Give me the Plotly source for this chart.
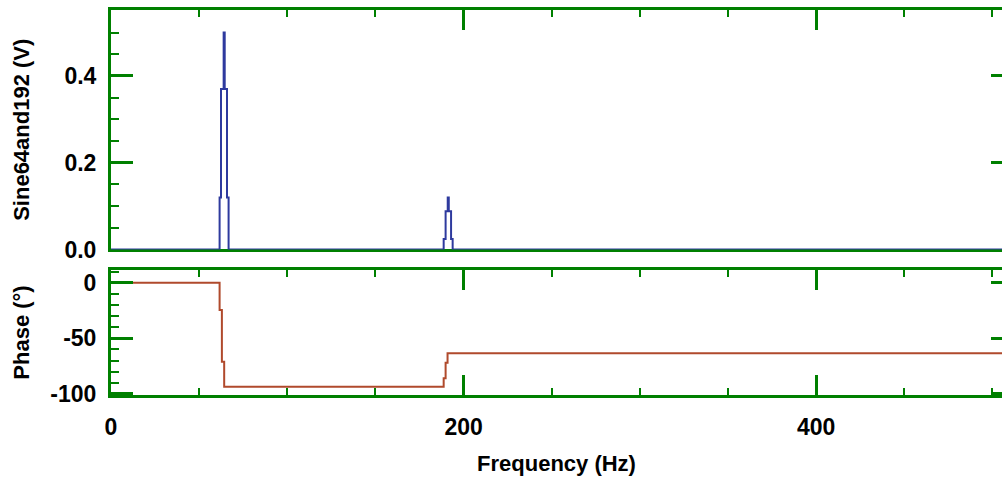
import plotly.graph_objects as go

# Magnitude spectrum (step plot, V)
freq_mag = [0, 61.6, 62.4, 63.9, 64.5, 65.8, 66.7, 188.7, 189.8, 191.0, 191.6, 192.9, 193.8, 512]
mag = [0.0, 0.12, 0.37, 0.5, 0.37, 0.12, 0.0, 0.024, 0.088, 0.12, 0.088, 0.024, 0.0, 0.0]

# Phase spectrum (step plot, degrees)
freq_phase = [0, 61.6, 62.9, 64.2, 188.7, 189.8, 190.9, 512]
phase = [0.0, -24.5, -71.0, -93.5, -86.0, -72.0, -63.5, -63.5]

mag_ticks = [0.0, 0.2, 0.4]
phase_ticks = [-100, -50, 0]
phase_ticktext = ["-100", "-50", "0"]
x_ticks = [0, 200, 400]

GREEN = "#008000"
BLUE = "#2E3A9E"
BROWN = "#B04A2C"
TICKFONT = dict(family="Liberation Sans", size=23, color="black", weight="bold")
TITLEFONT = dict(family="Liberation Sans", size=22, color="black", weight="bold")

fig = go.Figure()
fig.add_trace(go.Scatter(x=freq_mag, y=mag, mode="lines", line=dict(shape="hv", color=BLUE, width=2),
                         xaxis="x", yaxis="y", showlegend=False, hoverinfo="skip"))
fig.add_trace(go.Scatter(x=freq_phase, y=phase, mode="lines", line=dict(shape="hv", color=BROWN, width=2),
                         xaxis="x2", yaxis="y2", showlegend=False, hoverinfo="skip"))
# invisible helpers so the right-hand tick axes are drawn
fig.add_trace(go.Scatter(x=freq_mag[:1], y=mag[:1], mode="markers", marker=dict(opacity=0),
                         xaxis="x", yaxis="y3", showlegend=False, hoverinfo="skip"))
fig.add_trace(go.Scatter(x=freq_phase[:1], y=phase[:1], mode="markers", marker=dict(opacity=0),
                         xaxis="x2", yaxis="y4", showlegend=False, hoverinfo="skip"))

xr = [0, 505.4]
yr1 = [0, 0.552]
yr2 = [-101, 11.4]

common_x = dict(range=xr, showline=True, linecolor=GREEN, linewidth=3, ticks="inside", ticklen=20,
                tickwidth=3, tickcolor=GREEN, tickmode="array", tickvals=x_ticks,
                minor=dict(ticks="inside", ticklen=7, tickwidth=2, tickcolor=GREEN, tickmode="linear", tick0=0, dtick=50),
                showgrid=False, zeroline=False)

fig.update_layout(
    width=1002, height=480,
    margin=dict(l=111, r=0, t=10, b=85),
    paper_bgcolor="white", plot_bgcolor="white",
    xaxis=dict(**common_x, domain=[0, 1], anchor="y", side="top", mirror=True,
               showticklabels=False, layer="below traces"),
    xaxis2=dict(**common_x, domain=[0, 1], anchor="y2", side="bottom", mirror="ticks",
                showticklabels=True, tickfont=TICKFONT, ticklabelstandoff=9,
                title=dict(text="Frequency (Hz)", font=TITLEFONT, standoff=18)),
    yaxis=dict(domain=[0.378, 1], anchor="x", range=yr1, showline=True, linecolor=GREEN, linewidth=3,
               ticks="inside", ticklen=22, tickwidth=3, tickcolor=GREEN,
               tickmode="array", tickvals=mag_ticks, ticktext=[f"{v:.1f}" for v in mag_ticks],
               minor=dict(ticks="inside", ticklen=8, tickwidth=2, tickcolor=GREEN, tickmode="linear", tick0=0, dtick=0.05),
               tickfont=TICKFONT, ticklabelstandoff=7, showgrid=False, zeroline=False,
               title=dict(text="Sine64and192 (V)", font=TITLEFONT, standoff=29)),
    yaxis2=dict(domain=[0, 0.3247], anchor="x2", range=yr2, showline=True, linecolor=GREEN, linewidth=3,
                ticks="inside", ticklen=22, tickwidth=3, tickcolor=GREEN,
                tickmode="array", tickvals=phase_ticks, ticktext=phase_ticktext,
                minor=dict(ticks="inside", ticklen=8, tickwidth=2, tickcolor=GREEN, tickmode="linear", tick0=0, dtick=10),
                tickfont=TICKFONT, ticklabelstandoff=7, showgrid=False, zeroline=False,
                title=dict(text="Phase (°)", font=TITLEFONT, standoff=15)),
    yaxis3=dict(overlaying="y", anchor="x", side="right", range=yr1, showline=False,
                ticks="inside", ticklen=11, tickwidth=3, tickcolor=GREEN,
                tickmode="array", tickvals=mag_ticks, showticklabels=False, showgrid=False, zeroline=False),
    yaxis4=dict(overlaying="y2", anchor="x2", side="right", range=yr2, showline=False,
                ticks="inside", ticklen=11, tickwidth=3, tickcolor=GREEN,
                tickmode="array", tickvals=phase_ticks, showticklabels=False, showgrid=False, zeroline=False),
)

fig.write_html("out.html")
